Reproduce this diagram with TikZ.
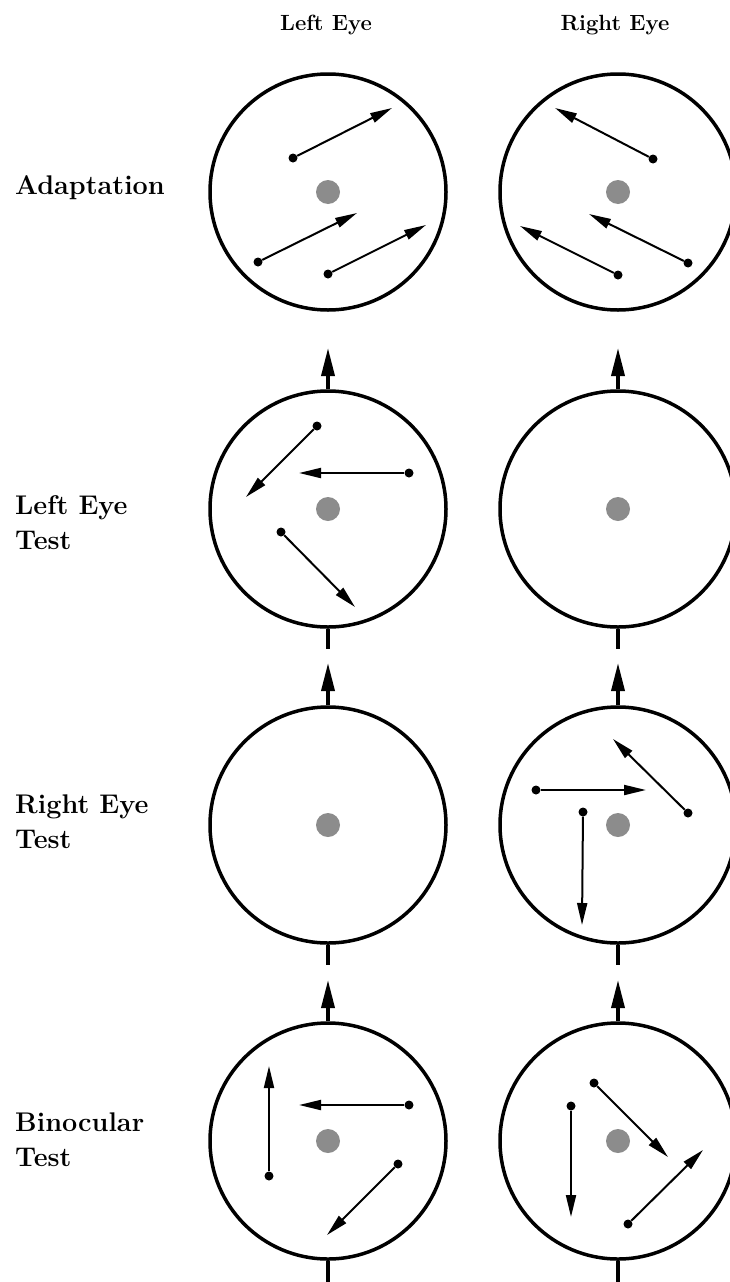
\documentclass[tikz,border=0pt]{standalone}
\usepackage{fontspec}
\usetikzlibrary{arrows.meta}
\begin{document}
\begin{tikzpicture}[x=1pt,y=-1pt,
  eye/.style={circle,draw,line width=3.5pt,minimum size=236pt,inner sep=0pt},
  fovea/.style={circle,fill=black!45,minimum size=24pt,inner sep=0pt},
  origin/.style={circle,fill=black,minimum size=9pt,inner sep=0pt},
  motion/.style={line width=2pt,-{Triangle[length=22pt,width=10pt]}},
  flow/.style={line width=3.5pt,-{Triangle[length=28pt,width=13pt]}},
  stub/.style={line width=3.5pt},
  rowlabel/.style={anchor=west,align=left,inner sep=0pt,font=\fontsize{27}{35}\selectfont\bfseries},
  collabel/.style={inner sep=0pt,font=\fontsize{22}{26}\selectfont\bfseries}]
\useasboundingbox (0,0) rectangle (730,1282);
\clip (0,0) rectangle (730,1282);

% column headers
\node[collabel] (hL) at (326,25) {Left Eye};
\node[collabel] (hR) at (615,25) {Right Eye};

% row labels
\node[rowlabel] (r1) at (15,188) {Adaptation};
\node[rowlabel] (r2) at (15,523) {Left Eye\\Test};
\node[rowlabel] (r3) at (15,822) {Right Eye\\Test};
\node[rowlabel] (r4) at (15,1140) {Binocular\\Test};

% eyes
\node[eye] (L1) at (328,192) {};
\node[eye] (R1) at (618,192) {};
\node[eye] (L2) at (328,509) {};
\node[eye] (R2) at (618,509) {};
\node[eye] (L3) at (328,825) {};
\node[eye] (R3) at (618,825) {};
\node[eye] (L4) at (328,1141) {};
\node[eye] (R4) at (618,1141) {};

% foveae
\foreach \e in {L1,R1,L2,R2,L3,R3,L4,R4}{\node[fovea] at (\e.center) {};}

% flow arrows between rows
\coordinate (fL2) at (328,348); \coordinate (fR2) at (618,348);
\coordinate (fL3) at (328,663); \coordinate (fR3) at (618,663);
\coordinate (fL4) at (328,980); \coordinate (fR4) at (618,980);
\draw[flow] (L2) -- (fL2); \draw[flow] (R2) -- (fR2);
\draw[flow] (L3) -- (fL3); \draw[flow] (R3) -- (fR3);
\draw[flow] (L4) -- (fL4); \draw[flow] (R4) -- (fR4);

% stubs below circles
\coordinate (sL2) at (328,649); \coordinate (sR2) at (618,649);
\coordinate (sL3) at (328,965); \coordinate (sR3) at (618,965);
\coordinate (sL4) at (328,1290); \coordinate (sR4) at (618,1290);
\draw[stub] (L2) -- (sL2); \draw[stub] (R2) -- (sR2);
\draw[stub] (L3) -- (sL3); \draw[stub] (R3) -- (sR3);
\draw[stub] (L4) -- (sL4); \draw[stub] (R4) -- (sR4);

% Row 1 left
\node[origin] (a1) at (293,158) {}; \coordinate (a1t) at (392,108);
\node[origin] (a2) at (258,262) {}; \coordinate (a2t) at (357,213);
\node[origin] (a3) at (328,274) {}; \coordinate (a3t) at (426,225);
\draw[motion] (a1) -- (a1t);
\draw[motion] (a2) -- (a2t);
\draw[motion] (a3) -- (a3t);

% Row 1 right
\node[origin] (b1) at (653,159) {}; \coordinate (b1t) at (555,108);
\node[origin] (b2) at (688,263) {}; \coordinate (b2t) at (589,214);
\node[origin] (b3) at (618,275) {}; \coordinate (b3t) at (520,226);
\draw[motion] (b1) -- (b1t);
\draw[motion] (b2) -- (b2t);
\draw[motion] (b3) -- (b3t);

% Row 2 left
\node[origin] (c1) at (317,426) {}; \coordinate (c1t) at (246,497);
\node[origin] (c2) at (409,473) {}; \coordinate (c2t) at (299,473);
\node[origin] (c3) at (281,532) {}; \coordinate (c3t) at (355,607);
\draw[motion] (c1) -- (c1t);
\draw[motion] (c2) -- (c2t);
\draw[motion] (c3) -- (c3t);

% Row 3 right
\node[origin] (d1) at (536,790) {}; \coordinate (d1t) at (646,790);
\node[origin] (d2) at (688,813) {}; \coordinate (d2t) at (613,739);
\node[origin] (d3) at (583,812) {}; \coordinate (d3t) at (582,925);
\draw[motion] (d1) -- (d1t);
\draw[motion] (d2) -- (d2t);
\draw[motion] (d3) -- (d3t);

% Row 4 left
\node[origin] (e1) at (269,1176) {}; \coordinate (e1t) at (269,1066);
\node[origin] (e2) at (409,1105) {}; \coordinate (e2t) at (299,1105);
\node[origin] (e3) at (398,1164) {}; \coordinate (e3t) at (327,1235);
\draw[motion] (e1) -- (e1t);
\draw[motion] (e2) -- (e2t);
\draw[motion] (e3) -- (e3t);

% Row 4 right
\node[origin] (g1) at (571,1106) {}; \coordinate (g1t) at (571,1217);
\node[origin] (g2) at (594,1083) {}; \coordinate (g2t) at (668,1157);
\node[origin] (g3) at (628,1224) {}; \coordinate (g3t) at (703,1150);
\draw[motion] (g1) -- (g1t);
\draw[motion] (g2) -- (g2t);
\draw[motion] (g3) -- (g3t);
\end{tikzpicture}
\end{document}
